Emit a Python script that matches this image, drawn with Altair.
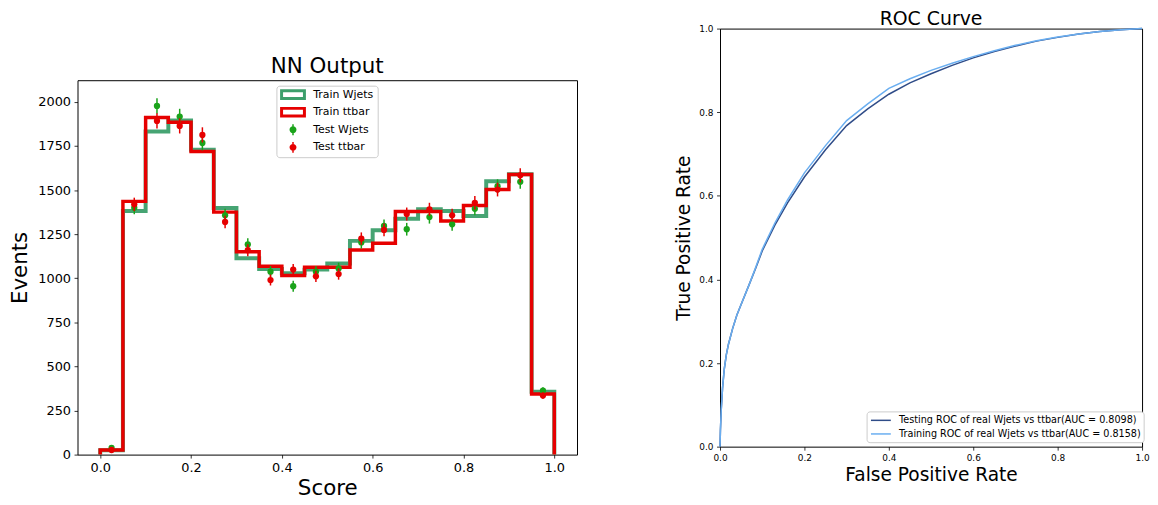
import altair as alt
import pandas as pd

# ---------------- data: NN output histogram ----------------
edges = [0.0, 0.05, 0.1, 0.15, 0.2, 0.25, 0.3, 0.35, 0.4, 0.45, 0.5,
         0.55, 0.6, 0.65, 0.7, 0.75, 0.8, 0.85, 0.9, 0.95, 1.0]
centers = [0.025, 0.075, 0.125, 0.175, 0.225, 0.275, 0.325, 0.375, 0.425, 0.475,
           0.525, 0.575, 0.625, 0.675, 0.725, 0.775, 0.825, 0.875, 0.925, 0.975]
train_wjets = [25, 1381, 1832, 1894, 1729, 1398, 1113, 1052, 1028, 1049,
               1084, 1212, 1272, 1338, 1391, 1381, 1353, 1550, 1590, 357]
train_ttbar = [26, 1436, 1911, 1885, 1719, 1375, 1150, 1068, 1015, 1062,
               1062, 1160, 1199, 1378, 1378, 1325, 1413, 1503, 1588, 344]
test_wjets = [38, 1400, 1977, 1917, 1767, 1357, 1192, 1037, 955, 1037,
              1056, 1203, 1297, 1278, 1347, 1306, 1394, 1522, 1547, 363]
test_wjets_err = [6, 37, 44, 44, 42, 37, 35, 32, 31, 32,
                  32, 35, 36, 36, 37, 36, 37, 39, 39, 19]
test_ttbar = [26, 1419, 1892, 1864, 1813, 1319, 1159, 990, 1049, 1011,
              1024, 1225, 1274, 1364, 1391, 1357, 1428, 1503, 1584, 335]
test_ttbar_err = [5, 38, 43, 43, 43, 36, 34, 31, 32, 32,
                  32, 35, 36, 37, 37, 37, 38, 39, 40, 18]
hist_labels = ["Train Wjets", "Train ttbar", "Test Wjets", "Test ttbar"]
x_ticks = [0.0, 0.2, 0.4, 0.6, 0.8, 1.0]
y_ticks = [0, 250, 500, 750, 1000, 1250, 1500, 1750, 2000]

# ---------------- data: ROC curves ----------------
fpr = [0, 0.001, 0.003, 0.006, 0.01, 0.015, 0.02, 0.03, 0.04, 0.05, 0.07, 0.085, 0.1,
       0.13, 0.16, 0.2, 0.25, 0.3, 0.35, 0.4, 0.45, 0.5, 0.55, 0.6, 0.65, 0.7, 0.75,
       0.8, 0.85, 0.9, 0.95, 1.0]
tpr_train = [0, 0.04, 0.09, 0.14, 0.185, 0.22, 0.245, 0.283, 0.315, 0.34, 0.39, 0.43, 0.472,
             0.535, 0.59, 0.655, 0.72, 0.78, 0.82, 0.857, 0.88, 0.9, 0.917, 0.933, 0.947,
             0.96, 0.971, 0.98, 0.987, 0.993, 0.997, 1.0]
tpr_test = [0, 0.04, 0.09, 0.14, 0.185, 0.22, 0.245, 0.283, 0.315, 0.34, 0.39, 0.428, 0.468,
            0.53, 0.583, 0.645, 0.71, 0.768, 0.808, 0.843, 0.87, 0.892, 0.912, 0.93, 0.945,
            0.958, 0.97, 0.979, 0.987, 0.993, 0.997, 1.0]
roc_labels = ["Testing ROC of real Wjets vs ttbar(AUC = 0.8098)",
              "Training ROC of real Wjets vs ttbar(AUC = 0.8158)"]
roc_ticks = [0.0, 0.2, 0.4, 0.6, 0.8, 1.0]

# ---------------- styles ----------------
GREEN_LINE = "#3c9f6b"
RED_LINE = "#e60000"
GREEN_PT = "#1aa31a"
RED_PT = "#e60000"
ROC_TEST = "#2f4c88"
ROC_TRAIN = "#6aaef0"
FONT = "DejaVu Sans"


def step_frame(vals, name):
    rows = [{"x": edges[0], "y": 0, "i": 0, "s": name}]
    k = 1
    for i, v in enumerate(vals):
        rows.append({"x": edges[i], "y": v, "i": k, "s": name}); k += 1
        rows.append({"x": edges[i + 1], "y": v, "i": k, "s": name}); k += 1
    rows.append({"x": edges[-1], "y": 0, "i": k, "s": name})
    return pd.DataFrame(rows)


step_w = step_frame(train_wjets, "Train Wjets")
step_t = step_frame(train_ttbar, "Train ttbar")
pts_w = pd.DataFrame({"x": centers, "y": test_wjets,
                      "lo": [v - e for v, e in zip(test_wjets, test_wjets_err)],
                      "hi": [v + e for v, e in zip(test_wjets, test_wjets_err)]})
pts_t = pd.DataFrame({"x": centers, "y": test_ttbar,
                      "lo": [v - e for v, e in zip(test_ttbar, test_ttbar_err)],
                      "hi": [v + e for v, e in zip(test_ttbar, test_ttbar_err)]})
leg_df = pd.DataFrame({"hs": hist_labels})

xs = alt.Scale(domain=[-0.05, 1.05], nice=False, zero=False)
ys = alt.Scale(domain=[0, 2123], nice=False, zero=False)
x_axis = alt.Axis(values=x_ticks, format=".1f", title="Score", titleFontSize=21.5,
                  titleFontWeight="normal", labelFontSize=13, titlePadding=3,
                  grid=False, domain=False)
y_axis = alt.Axis(values=y_ticks, format="d", title="Events", titleFontSize=21.5,
                  titleFontWeight="normal", labelFontSize=13, titlePadding=6,
                  grid=False, domain=False)

X = alt.X("x:Q", scale=xs, axis=x_axis)
Y = alt.Y("y:Q", scale=ys, axis=y_axis)

line_w = alt.Chart(step_w).mark_line(color=GREEN_LINE, strokeWidth=4, strokeJoin="miter",
                                     strokeCap="butt", opacity=0.95).encode(
    x=X, y=Y, order="i:Q")
line_t = alt.Chart(step_t).mark_line(color=RED_LINE, strokeWidth=3.5, strokeJoin="miter",
                                     strokeCap="butt").encode(
    x=alt.X("x:Q", scale=xs), y=alt.Y("y:Q", scale=ys), order="i:Q")


def err_layers(df, color):
    bars = alt.Chart(df).mark_rule(color=color, strokeWidth=1.5).encode(
        x=alt.X("x:Q", scale=xs), y=alt.Y("lo:Q", scale=ys), y2="hi:Q")
    dots = alt.Chart(df).mark_circle(color=color, size=40, opacity=1).encode(
        x=alt.X("x:Q", scale=xs), y=alt.Y("y:Q", scale=ys))
    return bars, dots


bw, dw = err_layers(pts_w, GREEN_PT)
bt, dt = err_layers(pts_t, RED_PT)

rect_path = "M-0.964,-0.973H3.764V0.973H-0.964Z M-0.419,-0.428V0.428H3.219V-0.428Z"
dot_path = ("M2.036,0A0.636,0.636 0 1,1 0.764,0A0.636,0.636 0 1,1 2.036,0Z "
            "M1.264,-1H1.536V1H1.264Z")

legend_layer = alt.Chart(leg_df).mark_point(filled=True, opacity=0, size=121).encode(
    color=alt.Color("hs:N", scale=alt.Scale(domain=hist_labels,
                                            range=[GREEN_LINE, RED_LINE, GREEN_PT, RED_PT]),
                    legend=alt.Legend(title=None, orient="none", legendX=200.3, legendY=57.5,
                                      fillColor="white", strokeColor="#cccccc",
                                      cornerRadius=3, padding=3.5, labelFontSize=11,
                                      labelOffset=22.5, rowPadding=5.7, symbolSize=121,
                                      symbolOpacity=1, symbolStrokeWidth=0,
                                      labelColor="black", labelFont=FONT, labelLimit=300)),
    shape=alt.Shape("hs:N", scale=alt.Scale(domain=hist_labels,
                                            range=[rect_path, rect_path, dot_path, dot_path]),
                    legend=None),
)

left = alt.layer(line_w, line_t, bw, dw, bt, dt, legend_layer).properties(
    width=503, height=377,
    title=alt.Title("NN Output", fontSize=21.5, fontWeight="normal", color="black",
                    offset=3, font=FONT),
)

spacer = alt.Chart(pd.DataFrame({"z": [0]})).mark_point(opacity=0).properties(
    width=20, height=26.5, view=alt.ViewBackground(stroke="transparent"))

# ---------------- ROC chart ----------------
roc_df = pd.concat([
    pd.DataFrame({"fpr": fpr, "tpr": tpr_test, "rs": roc_labels[0]}),
    pd.DataFrame({"fpr": fpr, "tpr": tpr_train, "rs": roc_labels[1]}),
])
rsc = alt.Scale(domain=[0, 1], nice=False, zero=False)
right = alt.Chart(roc_df).mark_line(strokeWidth=1.5).encode(
    x=alt.X("fpr:Q", scale=rsc,
            axis=alt.Axis(values=roc_ticks, format=".1f", title="False Positive Rate",
                          titleFontSize=18.7, titleFontWeight="normal", labelFontSize=9,
                          titlePadding=3, grid=False, domain=False)),
    y=alt.Y("tpr:Q", scale=rsc,
            axis=alt.Axis(values=roc_ticks, format=".1f", title="True Positive Rate",
                          titleFontSize=18.7, titleFontWeight="normal", labelFontSize=9,
                          titlePadding=5.7, grid=False, domain=False)),
    color=alt.Color("rs:N", scale=alt.Scale(domain=roc_labels, range=[ROC_TEST, ROC_TRAIN]),
                    legend=alt.Legend(title=None, orient="none", legendX=147.6, legendY=385.5,
                                      fillColor="white", strokeColor="#cccccc",
                                      cornerRadius=3, padding=3, labelFontSize=9.7,
                                      labelOffset=17.7, rowPadding=2.7, symbolSize=100,
                                      symbolType="M-0.92,0H3.08", symbolStrokeWidth=1.5,
                                      labelColor="black", labelFont=FONT, labelLimit=400)),
    order="fpr:Q",
).properties(
    width=425, height=421,
    title=alt.Title("ROC Curve", fontSize=19, fontWeight="normal", color="black",
                    offset=-4.5, font=FONT),
)

chart = alt.hconcat(
    alt.vconcat(spacer, left, spacing=0),
    right,
    spacing=96,
).resolve_scale(color="independent", shape="independent").resolve_legend(
    color="independent", shape="independent"
).properties(
    padding={"top": 0, "left": 1, "right": 0, "bottom": 0}
).configure(font=FONT).configure_view(
    stroke="black", strokeWidth=1
).configure_axis(
    tickColor="black", tickWidth=0.8, tickSize=3.5, labelPadding=3.5, labelFlush=False,
    labelColor="black", titleColor="black", labelFont=FONT, titleFont=FONT
)

chart.save("out.html", embed_options={"renderer": "svg", "actions": False})
